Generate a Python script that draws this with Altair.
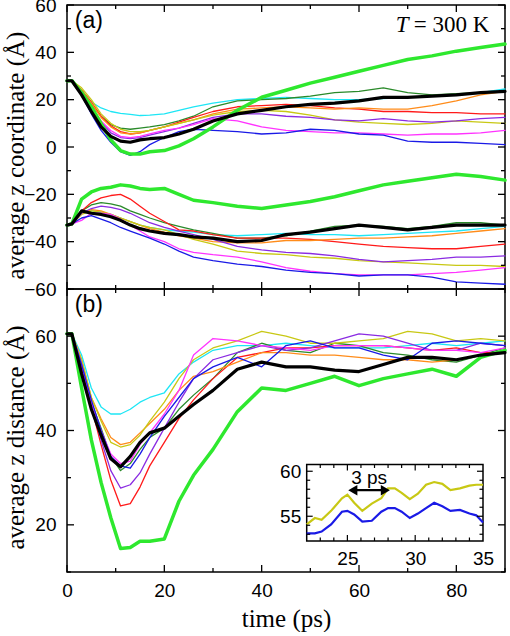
import altair as alt
import pandas as pd

# ---------------- data ----------------
time = [0, 1, 3, 5, 7, 9, 11, 13, 15, 17, 20, 23, 26, 30, 35, 40, 45, 50, 55, 60, 65, 70, 75, 80, 85, 90]

# panel (a): upper group
cyan_up = [28, 28, 24, 19, 16.5, 15, 14.2, 13.8, 13.3, 13.5, 14, 15.5, 17, 18.5, 20, 20.5, 21, 20.5, 20, 20, 20.5, 21, 21.5, 22, 23, 24.5]
dkgreen_up = [28, 28, 24, 18, 13, 9.5, 8, 7.5, 8, 8.5, 9.5, 11, 13, 17, 19.5, 20, 20.5, 21.5, 23, 23.5, 25, 23, 22, 22.5, 23, 23.5]
red_up = [28, 28, 24, 19, 13, 9, 6.5, 5.5, 6, 7, 8.5, 10.5, 12.5, 15, 17, 17.5, 18, 17.5, 16.5, 16, 15, 15, 14.5, 14.5, 14, 14]
orange_up = [28, 28, 24, 18.5, 12.5, 8.5, 6, 5.5, 6, 7, 8.5, 10, 11.5, 14, 16, 16.5, 17, 16.5, 16, 16.5, 16, 16, 17.5, 19.5, 22, 23.5]
yellow_up = [28, 28, 25, 20, 14, 10, 7.5, 6.5, 6.5, 7, 8.5, 10, 11.5, 13.5, 15, 15.5, 15, 13.5, 11.5, 10.5, 10, 9.5, 10, 11, 10.5, 10]
purple_up = [28, 28, 23, 17, 10.5, 6, 4, 3.5, 4, 5, 6.5, 8, 10, 12.5, 14, 14, 13, 12.5, 11.5, 11, 12, 11, 10.5, 11, 12, 12.5]
magenta_up = [28, 28, 23, 17, 11, 7, 4.5, 4, 4.5, 5.5, 7, 8, 9.5, 12, 11, 8.5, 7, 6.5, 6, 6, 5.5, 5, 5.5, 5.5, 6, 7]
blue_up = [28, 28, 22, 14, 7, 2, -2, -3.5, -2, 1, 4, 6.5, 7.5, 7, 6.5, 5.5, 6, 7.5, 7, 5.5, 5, 2.5, 2, 2, 1.5, 1]
green_up = [28, 28, 23, 17, 10, 3, -1.5, -3, -3, -2, -1.5, 0.5, 3.5, 8.5, 15.5, 21, 24, 27, 29.5, 32, 34.5, 37, 38.5, 40.5, 42, 43.5]
black_up = [28, 28, 22, 15, 8.5, 4.5, 2.5, 2, 3, 3.5, 4, 5.5, 7.5, 11, 14, 15.5, 17, 18, 18.5, 19.5, 21, 21, 21.5, 22, 23, 23.5]

# panel (a): lower group
cyan_lo = [-33, -32.5, -27.5, -27, -27.5, -28.5, -30, -31.5, -33, -34, -35, -35.5, -36, -37, -37.5, -37, -36.5, -37, -37, -37.5, -37, -36.5, -36, -35.5, -34.5, -33.5]
dkgreen_lo = [-33, -32.5, -27, -24.5, -23.5, -24, -25, -27, -28.5, -30, -32, -33.5, -35, -36.5, -38.5, -38.5, -37.5, -35.5, -33.5, -33, -33.5, -34.5, -33.5, -32, -32, -33]
red_lo = [-33, -32.5, -27, -23.5, -21.5, -20.5, -20, -22, -25, -28, -31.5, -35, -35.5, -37, -38.5, -38.5, -38.5, -39, -40, -41, -42, -42.5, -43, -43, -42, -41]
orange_lo = [-33, -32.5, -28, -26.5, -27, -28.5, -30, -31.5, -33, -34.5, -36, -37.5, -38.5, -40, -40.5, -40.5, -39.5, -39.5, -39, -38.5, -38.5, -38, -37.5, -36.5, -35.5, -34.5]
yellow_lo = [-33, -32.5, -28.5, -27, -27.5, -28.5, -30, -31.5, -33, -34, -35, -37, -39, -41, -44, -45, -45.5, -46.5, -47, -48, -48.5, -49, -49.5, -50, -50, -50.5]
purple_lo = [-33, -32.5, -28, -26, -25, -25.5, -26.5, -28, -30, -32, -34, -35.5, -37, -39, -42, -43.5, -44.5, -45, -46, -47.5, -48.5, -48, -47.5, -46.5, -46.5, -46]
magenta_lo = [-33, -32.5, -31, -28, -28, -28.5, -30.5, -33, -35.5, -38, -40, -43, -44.5, -45.5, -46.5, -48.5, -51, -52.5, -53.5, -54, -54, -54, -53.5, -53, -52, -51]
blue_lo = [-33, -32.5, -30, -29, -30.5, -32, -34, -35.5, -37, -38.5, -41, -44, -46.5, -48, -49.5, -50.5, -52, -53, -53.5, -54.5, -54, -54, -55, -57, -57.5, -58]
green_lo = [-33, -32.5, -22, -19, -17.5, -17, -16, -16.5, -17.5, -18, -17.5, -20, -22.5, -23.5, -25, -26, -24.5, -23, -21, -18.5, -16, -14.5, -13, -11.5, -12.5, -14]
black_lo = [-33, -32.5, -27, -28, -28.5, -29.5, -31, -33, -34.5, -35.5, -36.5, -37, -38, -38.5, -40, -39.5, -37, -36, -34.5, -33, -34, -35, -34, -33, -33, -33]

# panel (b): distance
cyan_d = [60.5, 60.5, 56, 49, 45, 43.5, 43.5, 44.5, 46, 47, 48, 52, 54.5, 57, 58, 58, 58.5, 58, 57.5, 57.5, 57.5, 58, 58.5, 58, 58.5, 59]
dkgreen_d = [60.5, 60.5, 54, 46, 40.5, 34.5, 31.5, 33, 36, 38.5, 40.5, 44.5, 47.5, 51, 56.5, 58.5, 57, 56.5, 58.5, 58, 56.5, 56, 55, 54.5, 56, 57.5]
red_d = [60.5, 60.5, 53.5, 45, 37, 29.5, 24, 24.5, 28, 32.5, 37.5, 42.5, 46.5, 51, 55.5, 56.5, 57.5, 57.5, 58, 58, 58, 57.5, 57, 57.5, 56.5, 56.5]
orange_d = [60.5, 60.5, 55, 47, 42.5, 38.5, 37, 37.5, 39.5, 41.5, 44.5, 48.5, 51.5, 52.5, 54.5, 56.5, 56.5, 56, 56, 55.5, 55, 55, 54.5, 55, 56, 56.5]
yellow_d = [60.5, 60.5, 55, 47, 42, 37.5, 36.5, 37, 39, 42, 46, 51, 55, 57.5, 59, 61, 60, 58.5, 58.5, 59, 59.5, 61, 60.5, 59, 59.5, 59]
purple_d = [60.5, 60.5, 54, 45.5, 38, 31.5, 27.8, 28.5, 31, 35, 40.5, 46, 51, 55, 56.5, 58, 57, 57.5, 59, 60.5, 60, 58.5, 57, 57, 58.5, 58]
magenta_d = [60.5, 60.5, 54, 46, 40, 35, 33, 33.5, 37, 39.5, 43.5, 48.5, 56, 59.5, 59, 58, 57.5, 57, 58, 58, 58, 57.5, 57, 57, 56.5, 57.5]
blue_d = [60.5, 60.5, 54, 46.5, 40, 34.5, 32.5, 32, 35, 38.5, 43, 47, 51, 53.5, 55.5, 53.5, 58, 59, 57.5, 57.5, 56, 55, 58.5, 59, 58.5, 58]
green_d = [60.5, 60.5, 49, 38, 29, 21.5, 15, 15.2, 16.5, 16.5, 17, 25, 30.5, 36, 44, 49, 48.5, 50, 51.5, 49.5, 51, 52, 53, 51.5, 55.5, 57]
black_d = [60.5, 60.5, 52, 44.5, 39, 34, 32.3, 34.5, 37.5, 39.5, 40.5, 43, 45.5, 48.5, 53, 54.5, 53.5, 53.5, 52.8, 52.5, 54, 55.5, 55.5, 55, 56, 56.5]

# inset
inset_time = [22, 22.6, 23.1, 23.8, 24.6, 25, 25.5, 26.1, 26.8, 27.5, 28, 28.5, 29, 29.6, 30.2, 30.8, 31.4, 32, 32.6, 33.3, 34, 34.5, 35]
inset_yellow = [54.1, 54.8, 54.6, 55.6, 57, 57.4, 56.5, 55.6, 56.4, 57, 58.1, 58.1, 57.6, 56.9, 57.5, 58.5, 58.8, 58.6, 57.9, 58.1, 58.4, 58.5, 58.5]
inset_blue = [53.1, 53.1, 53.3, 54.1, 55.5, 55.6, 55.2, 54.4, 54.5, 55.5, 55.9, 55.9, 55.5, 54.8, 55.3, 55.9, 56.5, 56.1, 55.6, 55.7, 55.3, 55.1, 54.3]

series_names = ["cyan", "dkgreen", "red", "orange", "yellow", "purple", "magenta", "blue", "green", "black"]
series_colors = ["#1ee6f5", "#2a8a2a", "#ff1a1a", "#ff8c1a", "#c8c814", "#8a2be2", "#ff33ff", "#1a1ae6", "#2ee82e", "#000000"]

# ---------------- layout constants ----------------
W, HA, HB = 438, 284, 283
SANS = "Liberation Sans"
SERIF = "Liberation Serif"
XS = alt.Scale(domain=[0, 90], nice=False, zero=False)
YA = alt.Scale(domain=[-60, 60], nice=False, zero=False)
YB = alt.Scale(domain=[10, 70], nice=False, zero=False)
IX0, IX1, IYB, IYT = 239.7, 416.0, 252.0, 175.5
IXS = alt.Scale(domain=[22, 35], range=[IX0, IX1], nice=False, zero=False)
IYS = alt.Scale(domain=[52.25, 60.75], range=[IYB, IYT], nice=False, zero=False)
COLOR = alt.Scale(domain=series_names, range=series_colors)
MAJ, MIN = 7, 4


def X(field, scale, axis=None):
    return alt.X(field, scale=scale, axis=axis) if axis is not None else alt.X(field, scale=scale)


def Y(field, scale, axis=None):
    return alt.Y(field, scale=scale, axis=axis) if axis is not None else alt.Y(field, scale=scale)


def long(groups):
    rows = []
    for name, grp, vals in groups:
        for t, v in zip(time, vals):
            rows.append({"t": t, "v": v, "series": name, "key": name + grp})
    return pd.DataFrame(rows)


def lines(df, ys, width, yaxis=None, xaxis=None):
    return alt.Chart(df).mark_line(strokeWidth=width, strokeJoin="round", strokeCap="round").encode(
        x=X("t:Q", XS, xaxis),
        y=Y("v:Q", ys, yaxis),
        color=alt.Color("series:N", scale=COLOR, legend=None),
        detail="key:N",
        order="t:Q",
    )


def frame_ticks(xs, ys, H, xmaj, xmin, ymaj, ymin):
    out = []
    for vals, L in ((xmaj, MAJ), (xmin, MIN)):
        b = alt.Chart(pd.DataFrame({"v": vals})).mark_rule(color="black", strokeWidth=1.3)
        out.append(b.encode(x=X("v:Q", xs), y=alt.value(H), y2=alt.value(H - L)))
        out.append(b.encode(x=X("v:Q", xs), y=alt.value(0), y2=alt.value(L)))
    for vals, L in ((ymaj, MAJ), (ymin, MIN)):
        b = alt.Chart(pd.DataFrame({"v": vals})).mark_rule(color="black", strokeWidth=1.3)
        out.append(b.encode(y=Y("v:Q", ys), x=alt.value(0), x2=alt.value(L)))
        out.append(b.encode(y=Y("v:Q", ys), x=alt.value(W), x2=alt.value(W - L)))
    return out


thin = ["cyan", "dkgreen", "red", "orange", "yellow", "purple", "magenta", "blue"]
va = {"cyan": (cyan_up, cyan_lo), "dkgreen": (dkgreen_up, dkgreen_lo), "red": (red_up, red_lo),
      "orange": (orange_up, orange_lo), "yellow": (yellow_up, yellow_lo), "purple": (purple_up, purple_lo),
      "magenta": (magenta_up, magenta_lo), "blue": (blue_up, blue_lo), "green": (green_up, green_lo),
      "black": (black_up, black_lo)}
vb = {"cyan": cyan_d, "dkgreen": dkgreen_d, "red": red_d, "orange": orange_d, "yellow": yellow_d,
      "purple": purple_d, "magenta": magenta_d, "blue": blue_d, "green": green_d, "black": black_d}

# ---------------- panel (a) ----------------
df_a_thin = long([(n, g, va[n][i]) for n in thin for i, g in enumerate(["u", "l"])])
df_a_green = long([("green", g, va["green"][i]) for i, g in enumerate(["u", "l"])])
df_a_black = long([("black", g, va["black"][i]) for i, g in enumerate(["u", "l"])])

yaxis_a = alt.Axis(values=[-60, -40, -20, 0, 20, 40, 60], title="average z coordinate (Å)",
                   labelPadding=11, titleX=-44, titleY=150, titleBaseline="alphabetic", titleAngle=270,
                   labelOverlap=False)
xaxis_a = alt.Axis(values=[0, 20, 40, 60, 80], labels=False, title="")

txt_a = pd.DataFrame({"t": [1.6], "v": [53.3], "s": ["(a)"]})
label_a = alt.Chart(txt_a).mark_text(font=SANS, fontSize=23, align="left", baseline="middle", color="black").encode(
    x=X("t:Q", XS), y=Y("v:Q", YA), text="s:N")
txt_T = pd.DataFrame({"t": [86.8], "v": [51.4]})
label_T1 = alt.Chart(txt_T).mark_text(font=SERIF, fontSize=23, align="right", baseline="middle", color="black",
                                      text="= 300 K").encode(x=X("t:Q", XS), y=Y("v:Q", YA))
label_T2 = alt.Chart(txt_T).mark_text(font=SERIF, fontSize=23, fontStyle="italic", align="right", baseline="middle",
                                      color="black", text="T", dx=-81).encode(x=X("t:Q", XS), y=Y("v:Q", YA))

panel_a = alt.layer(
    lines(df_a_thin, YA, 1.3, yaxis=yaxis_a, xaxis=xaxis_a),
    lines(df_a_green, YA, 3.5),
    lines(df_a_black, YA, 3.2),
    *frame_ticks(XS, YA, HA, [0, 20, 40, 60, 80], [10, 30, 50, 70, 90],
                 [-60, -40, -20, 0, 20, 40, 60], [-50, -30, -10, 10, 30, 50]),
    label_a, label_T1, label_T2,
).properties(width=W, height=HA)

# ---------------- panel (b) ----------------
df_b_thin = pd.DataFrame([{"t": t, "v": v, "series": n, "key": n} for n in thin for t, v in zip(time, vb[n])])
df_b_green = pd.DataFrame([{"t": t, "v": v, "series": "green", "key": "green"} for t, v in zip(time, green_d)])
df_b_black = pd.DataFrame([{"t": t, "v": v, "series": "black", "key": "black"} for t, v in zip(time, black_d)])

yaxis_b = alt.Axis(values=[20, 40, 60], title="average z distance (Å)", labelPadding=11, titleX=-44,
                   titleY=148, titleBaseline="alphabetic", titleAngle=270, labelOverlap=False)
xaxis_b = alt.Axis(values=[0, 20, 40, 60, 80], title="time (ps)", labelPadding=9, labelFlush=False,
                   titleY=54, titleBaseline="alphabetic", labelOverlap=False)

txt_b = pd.DataFrame({"t": [1.6], "v": [66.6], "s": ["(b)"]})
label_b = alt.Chart(txt_b).mark_text(font=SANS, fontSize=23, align="left", baseline="middle", color="black").encode(
    x=X("t:Q", XS), y=Y("v:Q", YB), text="s:N")

main_b = alt.layer(
    lines(df_b_thin, YB, 1.3, yaxis=yaxis_b, xaxis=xaxis_b),
    lines(df_b_green, YB, 3.5),
    lines(df_b_black, YB, 3.2),
    *frame_ticks(XS, YB, HB, [0, 20, 40, 60, 80], [10, 30, 50, 70, 90], [20, 40, 60], [10, 30, 50, 70]),
    label_b,
)

# inset
box = pd.DataFrame({"x0": [22], "x1": [35], "y0": [52.25], "y1": [60.75]})
inset_box = alt.Chart(box).mark_rect(fill="white", stroke="black", strokeWidth=1.5).encode(
    x=X("x0:Q", IXS, alt.Axis(orient="bottom", offset=-(HB - IYB), values=[25, 30, 35],
                               title="", labelPadding=8, labelFontSize=19, labelFlush=False)),
    x2="x1:Q",
    y=Y("y0:Q", IYS, alt.Axis(orient="left", offset=-IX0, values=[55, 60], title="",
                               labelPadding=6, labelFontSize=19)),
    y2="y1:Q",
)
df_in = pd.DataFrame(
    [{"t": t, "v": v, "s": "yellow"} for t, v in zip(inset_time, inset_yellow)]
    + [{"t": t, "v": v, "s": "blue"} for t, v in zip(inset_time, inset_blue)])
inset_lines = alt.Chart(df_in).mark_line(strokeWidth=2.2).encode(
    x=X("t:Q", IXS),
    y=Y("v:Q", IYS),
    color=alt.Color("s:N", scale=alt.Scale(domain=["yellow", "blue"], range=["#c8c814", "#1a1ae6"]), legend=None),
    detail="s:N",
    order="t:Q",
)


def inset_ticks():
    out = []
    IMAJ, IMIN = 6, 3.5
    xmaj, xmin = [25, 30], [23, 24, 26, 27, 28, 29, 31, 32, 33, 34]
    ymaj, ymin = [55, 60], [53, 54, 56, 57, 58, 59]
    for vals, L in ((xmaj, IMAJ), (xmin, IMIN)):
        b = alt.Chart(pd.DataFrame({"v": vals})).mark_rule(color="black", strokeWidth=1.2)
        out.append(b.encode(x=X("v:Q", IXS), y=alt.value(IYB), y2=alt.value(IYB - L)))
        out.append(b.encode(x=X("v:Q", IXS), y=alt.value(IYT), y2=alt.value(IYT + L)))
    for vals, L in ((ymaj, IMAJ), (ymin, IMIN)):
        b = alt.Chart(pd.DataFrame({"v": vals})).mark_rule(color="black", strokeWidth=1.2)
        out.append(b.encode(y=Y("v:Q", IYS), x=alt.value(IX0), x2=alt.value(IX0 + L)))
        out.append(b.encode(y=Y("v:Q", IYS), x=alt.value(IX1), x2=alt.value(IX1 - L)))
    return out


arrow_df = pd.DataFrame({"a": [25.4], "b": [27.8], "v": [57.9]})
arrow_line = alt.Chart(arrow_df).mark_rule(color="black", strokeWidth=2.2).encode(
    x=X("a:Q", IXS), x2="b:Q", y=Y("v:Q", IYS))
head_l = alt.Chart(arrow_df).mark_point(shape="triangle-left", filled=True, size=110, color="black", opacity=1).encode(
    x=X("a:Q", IXS), y=Y("v:Q", IYS))
head_r = alt.Chart(arrow_df).mark_point(shape="triangle-right", filled=True, size=110, color="black", opacity=1).encode(
    x=X("b:Q", IXS), y=Y("v:Q", IYS))
txt_in = pd.DataFrame({"t": [26.6], "v": [59.25], "s": ["3 ps"]})
label_in = alt.Chart(txt_in).mark_text(font=SANS, fontSize=19, align="center", baseline="middle", color="black").encode(
    x=X("t:Q", IXS), y=Y("v:Q", IYS), text="s:N")

inset = alt.layer(inset_box, inset_lines, *inset_ticks(), arrow_line, head_l, head_r, label_in)

panel_b = alt.layer(main_b, inset).resolve_scale(x="independent", y="independent", color="independent").properties(
    width=W, height=HB)

chart = alt.vconcat(panel_a, panel_b, spacing=0, bounds="flush").properties(
    padding={"left": 2, "top": -5, "right": 0, "bottom": 0}, background="white"
).configure_view(stroke="black", strokeWidth=1.5).configure_axis(
    labelFont=SANS, labelFontSize=19, labelColor="black", titleFont=SERIF, titleFontSize=25,
    titleFontWeight="normal", titleColor="black", grid=False, domain=False, ticks=False
)

chart.save("out.html", embed_options={"renderer": "svg", "actions": False})
